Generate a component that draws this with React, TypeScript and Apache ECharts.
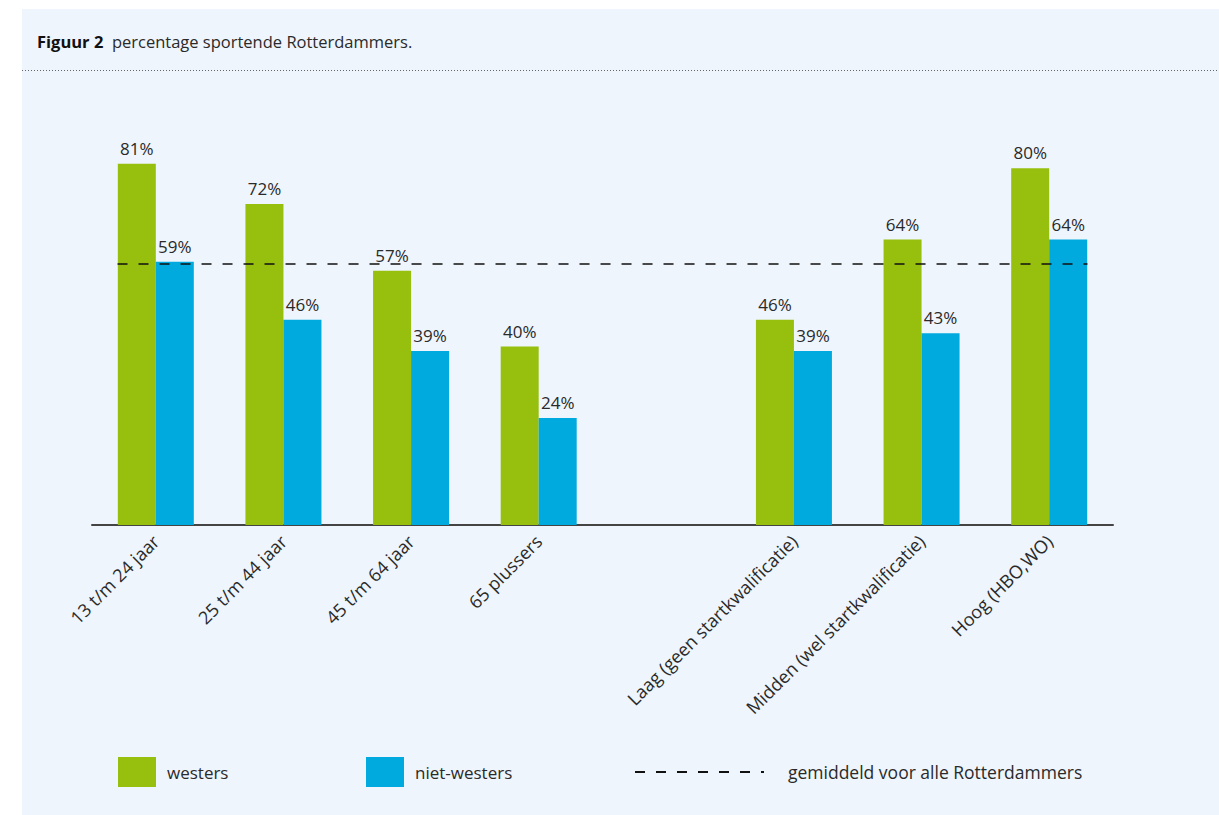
import React, { useEffect, useRef } from "react";
import * as echarts from "echarts";

const categories = [
  "13 t/m 24 jaar",
  "25 t/m 44 jaar",
  "45 t/m 64 jaar",
  "65 plussers",
  "",
  "Laag (geen startkwalificatie)",
  "Midden (wel startkwalificatie)",
  "Hoog (HBO,WO)",
];
const westers = [81, 72, 57, 40, null, 46, 64, 80];
const nietWesters = [59, 46, 39, 24, null, 39, 43, 64];
const gemiddeld = 58.5;

const seriesNames = ["westers", "niet-westers", "gemiddeld voor alle Rotterdammers"];
const titleBold = "Figuur 2";
const titleText = "percentage sportende Rotterdammers.";

const FONT = "'Open Sans', 'Noto Sans', sans-serif";
const GREEN = "#97BF0D";
const BLUE = "#00AADF";
const BG = "#EEF5FC";
const TEXT = "#2a2a2a";

export default function App() {
  const ref = useRef<HTMLDivElement>(null);
  useEffect(() => {
    document.body.style.margin = "0";
    const chart = echarts.init(ref.current!, null, { renderer: "svg" });
    const half = 0.3;
    const label = {
      show: true,
      position: "top",
      distance: 7,
      fontSize: 17,
      fontFamily: FONT,
      color: TEXT,
      formatter: (p: any) => (p.value == null ? "" : p.value + "%"),
    };
    const legendBase = {
      top: 757,
      padding: 0,
      itemHeight: 30,
      itemWidth: 38,
      icon: "rect",
      selectedMode: false,
      textStyle: { fontSize: 17, fontFamily: FONT, color: TEXT, padding: [4, 0, 0, 6] },
    };
    chart.setOption({
      animation: false,
      backgroundColor: "#ffffff",
      textStyle: { fontFamily: FONT },
      graphic: [
        {
          type: "rect",
          z: -10,
          silent: true,
          shape: { x: 22, y: 9, width: 1197, height: 806 },
          style: { fill: BG },
        },
        {
          type: "text",
          x: 37,
          y: 41,
          style: {
            text: "{b|" + titleBold + "}  " + titleText,
            fontSize: 16.5,
            fontFamily: FONT,
            fill: TEXT,
            verticalAlign: "middle",
            rich: { b: { fontWeight: "bold", fontSize: 16.5, fontFamily: FONT, fill: "#111" } },
          },
        },
        {
          type: "line",
          shape: { x1: 22, y1: 70.5, x2: 1219, y2: 70.5 },
          style: { stroke: "#666", lineWidth: 1, lineDash: [1, 2] },
        },
      ],
      legend: [
        { ...legendBase, left: 118, data: [seriesNames[0]] },
        { ...legendBase, left: 366, data: [seriesNames[1]] },
        {
          ...legendBase,
          top: 760,
          left: 634,
          itemWidth: 129,
          icon: undefined,
          data: [seriesNames[2]],
          itemStyle: { color: "rgba(0,0,0,0)", borderWidth: 0 },
          textStyle: { ...legendBase.textStyle, fontSize: 17.5, padding: [4, 0, 0, 19] },
        },
      ],
      grid: { left: 92, right: 106, top: 79, bottom: 290, containLabel: false },
      xAxis: [
        {
          type: "category",
          data: categories,
          axisLine: { show: true, lineStyle: { color: "#444", width: 2 } },
          axisTick: { show: false },
          axisLabel: {
            rotate: 45,
            interval: 0,
            margin: 13,
            fontSize: 18,
            fontFamily: FONT,
            color: TEXT,
          },
        },
        { type: "value", min: -0.5, max: categories.length - 0.5, show: false },
      ],
      yAxis: {
        type: "value",
        min: 0,
        max: 100,
        show: false,
        splitLine: { show: false },
      },
      series: [
        {
          name: seriesNames[0],
          type: "bar",
          data: westers,
          barWidth: 38,
          barGap: "0%",
          itemStyle: { color: GREEN },
          label,
        },
        {
          name: seriesNames[1],
          type: "bar",
          data: nietWesters,
          barWidth: 38,
          barGap: "0%",
          itemStyle: { color: BLUE },
          label,
        },
        {
          name: seriesNames[2],
          type: "line",
          xAxisIndex: 1,
          yAxisIndex: 0,
          data: [
            [-half, gemiddeld],
            [categories.length - 1 + half, gemiddeld],
          ],
          symbol: "none",
          z: 5,
          color: "#111",
          lineStyle: { color: "#111", width: 1.5, type: [10, 11] },
        },
      ],
    });
    return () => chart.dispose();
  }, []);
  return <div ref={ref} style={{ width: 1219, height: 815 }} />;
}
